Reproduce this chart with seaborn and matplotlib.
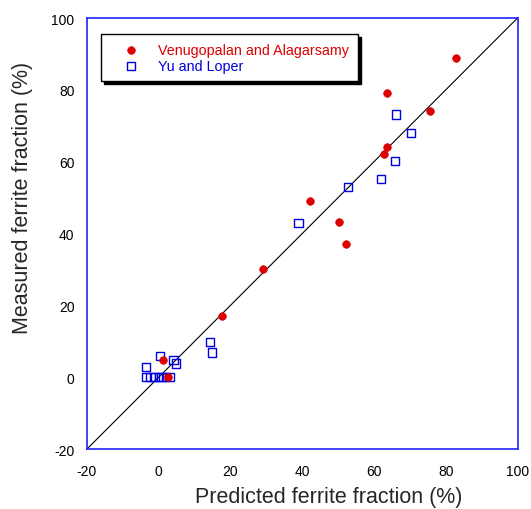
import matplotlib
matplotlib.use("Agg")
import matplotlib.pyplot as plt
import seaborn as sns
import pandas as pd

sns.set_style("white")
plt.rcParams['font.family'] = ['Liberation Sans', 'DejaVu Sans']
plt.rcParams['axes.unicode_minus'] = False

# Venugopalan and Alagarsamy (predicted, measured)
va_pred = [82.8, 63.5, 75.7, 63.6, 62.9, 42.1, 50.3, 52.1, 29.2, 17.6, 1.1, 2.5]
va_meas = [89.0, 79.2, 74.2, 64.2, 62.1, 49.1, 43.1, 37.0, 30.1, 17.1, 4.8, 0.0]

# Yu and Loper (predicted, measured)
yl_pred = [66.1, 70.3, 65.8, 61.9, 52.8, 39.0, 14.3, 14.9, 0.3, 4.1, 4.8, -3.6,
           -3.4, -2.3, -1.2, 0.0, 0.8, 2.0, 3.0]
yl_meas = [73.1, 68.0, 60.1, 55.1, 52.9, 43.0, 9.8, 6.9, 5.9, 4.8, 3.8, 2.9,
           0.0, 0.0, 0.0, 0.0, 0.0, 0.0, 0.0]

xlim = (-20, 100)
ylim = (-20, 100)
ticks = [-20, 0, 20, 40, 60, 80, 100]

df_va = pd.DataFrame({"pred": va_pred, "meas": va_meas})
df_yl = pd.DataFrame({"pred": yl_pred, "meas": yl_meas})

fig = plt.figure(figsize=(5.31, 5.10), dpi=100)
ax = fig.add_axes([0.1638, 0.1176, 0.8108, 0.8451])

ax.plot(xlim, ylim, color="black", lw=0.8, zorder=1)

sns.scatterplot(data=df_va, x="pred", y="meas", ax=ax, marker="o", s=30,
                color="#dd0000", edgecolor="#dd0000", linewidth=0.5,
                label="Venugopalan and Alagarsamy", zorder=3)
sns.scatterplot(data=df_yl, x="pred", y="meas", ax=ax, marker="s", s=36,
                color="#0000dd", facecolor="none", edgecolor="#0000dd",
                linewidth=1.0, label="Yu and Loper", zorder=2)

ax.set_xlim(*xlim)
ax.set_ylim(*ylim)
ax.set_xticks(ticks)
ax.set_yticks(ticks)
ax.tick_params(direction="in", length=5, width=1, color="#2222ff",
               labelsize=10, labelcolor="black")
ax.tick_params(axis="x", pad=11)
ax.tick_params(axis="y", pad=9)
for sp in ax.spines.values():
    sp.set_color("#2222ff")
    sp.set_linewidth(1.2)

ax.set_xlabel("Predicted ferrite fraction (%)", fontsize=15.5)
ax.set_ylabel("Measured ferrite fraction (%)", fontsize=15.5)
ax.xaxis.set_label_coords(0.562, -0.085)
ax.yaxis.set_label_coords(-0.125, 0.585)

leg = ax.legend(loc="upper left", bbox_to_anchor=(0.033, 0.963), fontsize=10.3,
                frameon=True, fancybox=False, shadow={"color": "black", "alpha": 1},
                borderpad=0.6, handlelength=3.0, handletextpad=0.4,
                labelspacing=0.15, borderaxespad=0)
leg.get_frame().set_edgecolor("black")
leg.get_frame().set_linewidth(1.0)
for txt, col in zip(leg.get_texts(), ["#dd0000", "#0000dd"]):
    txt.set_color(col)

fig.savefig("out.png", dpi=100)
